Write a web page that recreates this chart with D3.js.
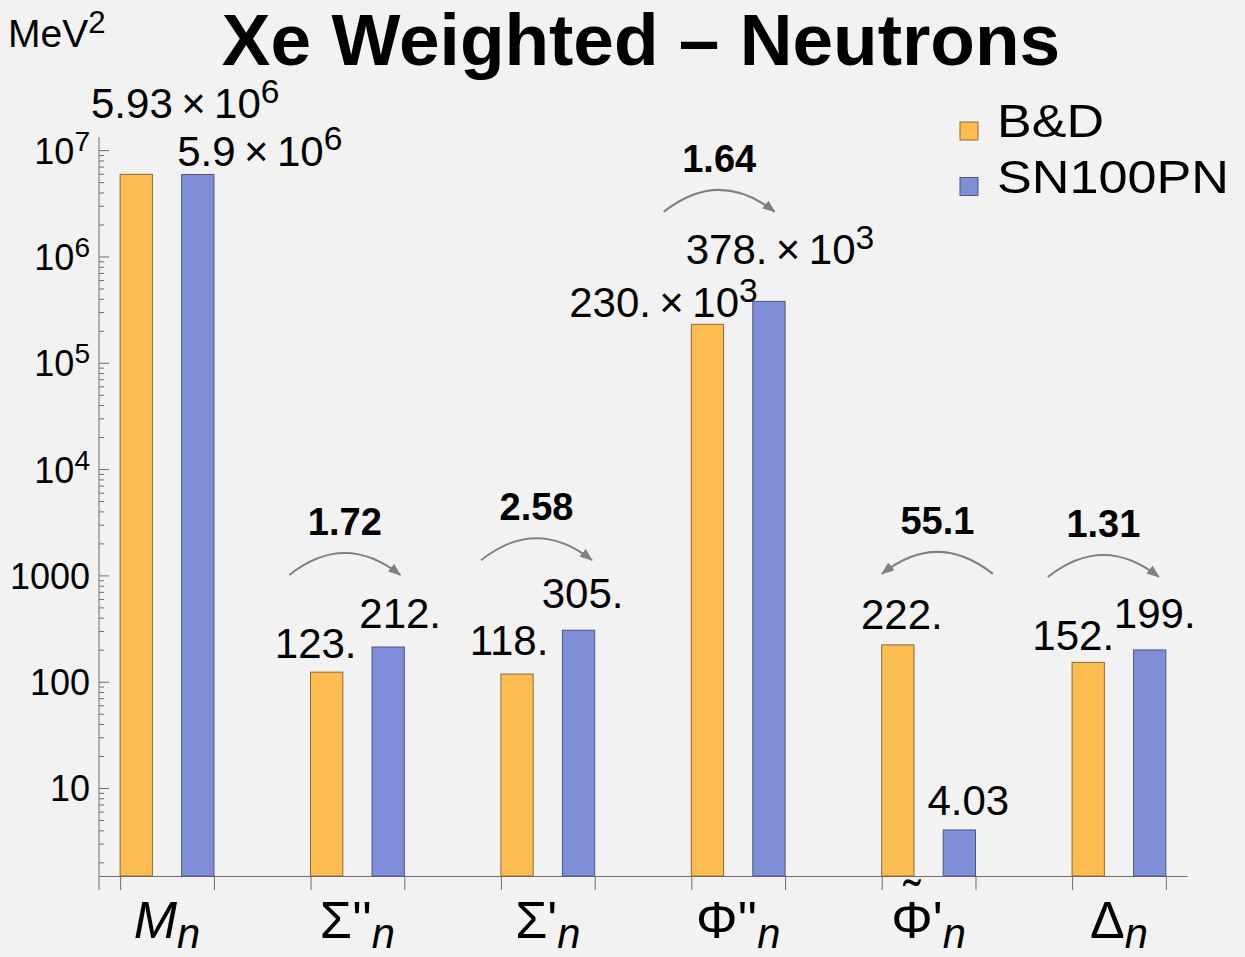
<!DOCTYPE html>
<html>
<head>
<meta charset="utf-8">
<script src="https://cdn.jsdelivr.net/npm/d3@7"></script>
<style>
  html, body { margin: 0; padding: 0; background: #f2f2f2; }
  svg { display: block; font-family: "Liberation Sans", Arial, Helvetica, sans-serif; }
</style>
</head>
<body>
<svg id="chart" width="1245" height="957"></svg>
<script>
// ---- data -------------------------------------------------------------
const categories     = ["M", "Σ''", "Σ'", "Φ''", "Φ\u0303'", "Δ"];
const categoryItalic = [true, false, false, false, false, false];
const categorySub    = "n";
const seriesNames    = ["B&D", "SN100PN"];
const bdValues       = [5.93e6, 123, 118, 230e3, 222, 152];
const snValues       = [5.9e6, 212, 305, 378e3, 4.03, 199];
const yTickValues    = [10, 100, 1000, 1e4, 1e5, 1e6, 1e7];
const yUnit          = "MeV";
const title          = "Xe Weighted \u2013 Neutrons";

// ---- label placement (nudges in px) -----------------------------------
// [dx from bar centre to label centre, dy from bar top to label baseline]
const bdLabelNudge = [[49, -56], [-11, -14], [-8, -19], [-44, -7], [4, -16], [-15, -12]];
const snLabelNudge = [[62, -9], [12, -19], [4, -22], [11, -37], [9, -15], [5, -22]];
// ratio arrows: [dx from group centre, dy from the taller bar's top] (null = no arrow)
const arrowNudge = [null, [-12.6, -72], [-11.3, -70], [-19, -89.5], [8.8, -71], [-15.6, -73]];

// ---- styles -----------------------------------------------------------
const W = 1245, H = 957;
const colors  = ["#fcbc52", "#7f8ed6"];
const strokes = ["#8c6a34", "#4c5686"];
const axisColor = "#6e6e6e";
const arrowColor = "#808080";

const svg = d3.select("#chart");
svg.append("rect").attr("width", W).attr("height", H).attr("fill", "#f2f2f2");

const plot = { left: 99, right: 1187, top: 137, bottom: 876 };

// ---- scales -----------------------------------------------------------
const y = d3.scaleLog().domain([1.487, 1.33e7]).range([plot.bottom, plot.top]);
const x0 = d3.scaleBand()
  .domain(d3.range(categories.length))
  .range([plot.left, plot.right])
  .paddingInner(0.5074)
  .paddingOuter(0.111);
const x1 = d3.scaleBand()
  .domain([0, 1])
  .range([0, x0.bandwidth()])
  .paddingInner(0.475)
  .paddingOuter(0);

const series = [bdValues, snValues];
const nudges = [bdLabelNudge, snLabelNudge];

// ---- number formatting (3 significant digits, trailing point on integers) --
function shortNumber(v) {
  const s = d3.format(".3~r")(v);
  return s.includes(".") ? s : s + ".";
}
function valueLabel(v) {
  if (v >= 1e6) {
    const e = Math.floor(Math.log10(v));
    return { base: shortNumber(v / Math.pow(10, e)) + "\u2009\u00d7\u200910", exp: String(e) };
  }
  if (v >= 1e5) return { base: shortNumber(v / 1e3) + "\u2009\u00d7\u200910", exp: "3" };
  return { base: shortNumber(v), exp: null };
}
function writePower(sel, base, exp, supSize = "0.8em") {
  sel.text(null);
  sel.append("tspan").text(base);
  if (exp !== null) {
    sel.append("tspan").attr("dy", "-0.46em").attr("font-size", supSize).text(exp);
  }
}

// ---- y axis ------------------------------------------------------------
const minorTicks = [];
for (let k = 0; k <= 6; k++) {
  for (let m = 2; m <= 9; m++) {
    const v = m * Math.pow(10, k);
    if (v >= y.domain()[0] && v <= y.domain()[1]) minorTicks.push(v);
  }
}

const gyMinor = svg.append("g").attr("transform", `translate(${plot.left},0)`)
  .call(d3.axisLeft(y).tickValues(minorTicks).tickSizeInner(-5).tickSizeOuter(0).tickFormat(""));
gyMinor.select(".domain").remove();

const gy = svg.append("g").attr("transform", `translate(${plot.left},0)`)
  .call(d3.axisLeft(y).tickValues(yTickValues).tickSizeInner(-10).tickSizeOuter(0).tickPadding(9));
gy.select(".domain").remove();
gy.selectAll(".tick text")
  .attr("font-size", 36)
  .attr("font-family", null)
  .attr("fill", "#000")
  .attr("dy", "0.36em")
  .each(function (d) {
    const e = Math.round(Math.log10(d));
    if (e >= 4) writePower(d3.select(this), "10", String(e), "0.78em");
    else writePower(d3.select(this), String(d), null);
  });
svg.selectAll(".tick line").attr("stroke", axisColor);

// vertical axis line, running a little below the horizontal axis
svg.append("line")
  .attr("x1", plot.left).attr("x2", plot.left)
  .attr("y1", plot.top).attr("y2", plot.bottom + 14)
  .attr("stroke", axisColor);

// ---- x axis ------------------------------------------------------------
const edges = [];
d3.range(categories.length).forEach(i => {
  edges.push(x0(i), x0(i) + x0.bandwidth());
});
const xEdge = d3.scaleLinear().domain([plot.left, plot.right]).range([plot.left, plot.right]);
const gx = svg.append("g").attr("transform", `translate(0,${plot.bottom})`)
  .call(d3.axisBottom(xEdge).tickValues(edges).tickSizeInner(14).tickSizeOuter(0).tickFormat(""));
gx.select(".domain").attr("stroke", axisColor);
gx.selectAll(".tick line").attr("stroke", axisColor);

// category labels (a combining tilde is drawn as a separate accent over its letter)
categories.forEach((c, i) => {
  const hasTilde = c.includes("\u0303");
  const sym = c.replace("\u0303", "");
  const t = svg.append("text")
    .attr("x", x0(i) + x0.bandwidth() / 2)
    .attr("y", 938)
    .attr("text-anchor", "middle")
    .attr("font-size", 52)
    .attr("fill", "#000");
  t.append("tspan").attr("font-style", categoryItalic[i] ? "italic" : "normal").text(sym);
  t.append("tspan").attr("font-style", "italic").attr("font-size", "0.8em").attr("dy", "0.24em").text(categorySub);
  if (hasTilde) {
    const node = t.node();
    const xa = node.getStartPositionOfChar(0).x;
    const xb = node.getEndPositionOfChar(0).x;
    svg.append("text")
      .attr("x", (xa + xb) / 2)
      .attr("y", 917)
      .attr("text-anchor", "middle")
      .attr("font-size", 52)
      .attr("fill", "#000")
      .text("\u02dc");
  }
});

// ---- bars ---------------------------------------------------------------
const groups = svg.append("g").selectAll("g")
  .data(d3.range(categories.length))
  .join("g")
  .attr("transform", i => `translate(${x0(i)},0)`);

groups.selectAll("rect")
  .data(i => series.map((s, k) => ({ k, v: s[i] })))
  .join("rect")
  .attr("x", d => x1(d.k))
  .attr("width", x1.bandwidth())
  .attr("y", d => y(d.v))
  .attr("height", d => plot.bottom - y(d.v))
  .attr("fill", d => colors[d.k])
  .attr("stroke", d => strokes[d.k])
  .attr("stroke-width", 1);

// ---- value labels --------------------------------------------------------
series.forEach((s, k) => {
  s.forEach((v, i) => {
    const cx = x0(i) + x1(k) + x1.bandwidth() / 2 + nudges[k][i][0];
    const by = y(v) + nudges[k][i][1];
    const lab = valueLabel(v);
    const t = svg.append("text")
      .attr("x", cx).attr("y", by)
      .attr("text-anchor", "middle")
      .attr("font-size", 42)
      .attr("fill", "#000");
    writePower(t, lab.base, lab.exp);
  });
});

// ---- ratio arrows ---------------------------------------------------------
svg.append("defs").append("marker")
  .attr("id", "arrowhead")
  .attr("viewBox", "0 0 13 10")
  .attr("refX", 12).attr("refY", 5)
  .attr("markerWidth", 13).attr("markerHeight", 10)
  .attr("markerUnits", "userSpaceOnUse")
  .attr("orient", "auto")
  .append("path")
  .attr("d", "M0,0L13,5L0,10Z")
  .attr("fill", arrowColor);

categories.forEach((c, i) => {
  if (arrowNudge[i] === null) return;
  const a = bdValues[i], b = snValues[i];
  const ratio = Math.max(a, b) / Math.min(a, b);
  const cx = x0(i) + x0.bandwidth() / 2 + arrowNudge[i][0];
  const ay = y(Math.max(a, b)) + arrowNudge[i][1];
  const half = 55.5;
  // arrow points towards the larger bar
  const from = b >= a ? cx - half : cx + half;
  const to   = b >= a ? cx + half : cx - half;
  svg.append("path")
    .attr("d", `M${from},${ay} Q${cx},${ay - 44} ${to},${ay}`)
    .attr("fill", "none")
    .attr("stroke", arrowColor)
    .attr("stroke-width", 2)
    .attr("marker-end", "url(#arrowhead)");
  svg.append("text")
    .attr("x", cx).attr("y", ay - 40)
    .attr("text-anchor", "middle")
    .attr("font-size", 38)
    .attr("font-weight", "bold")
    .attr("fill", "#000")
    .text(shortNumber(ratio).replace(/\.$/, ""));
});

// ---- legend ---------------------------------------------------------------
const legend = svg.append("g").attr("transform", "translate(960,122)");
const legendWidths = [107, 232];
seriesNames.forEach((name, k) => {
  const g = legend.append("g").attr("transform", `translate(0,${k * 55.5})`);
  g.append("rect")
    .attr("width", 18).attr("height", 18)
    .attr("fill", colors[k]).attr("stroke", strokes[k]);
  g.append("text")
    .attr("x", 37).attr("y", 15)
    .attr("font-size", 46)
    .attr("textLength", legendWidths[k])
    .attr("lengthAdjust", "spacingAndGlyphs")
    .attr("fill", "#000")
    .text(name);
});

// ---- unit and title ----------------------------------------------------------
const unit = svg.append("text").attr("x", 8).attr("y", 47).attr("font-size", 39).attr("fill", "#000");
writePower(unit, yUnit, "2", "0.8em");

svg.append("text")
  .attr("x", 641).attr("y", 65)
  .attr("text-anchor", "middle")
  .attr("font-size", 73)
  .attr("font-weight", "bold")
  .attr("fill", "#000")
  .text(title);
</script>
</body>
</html>
